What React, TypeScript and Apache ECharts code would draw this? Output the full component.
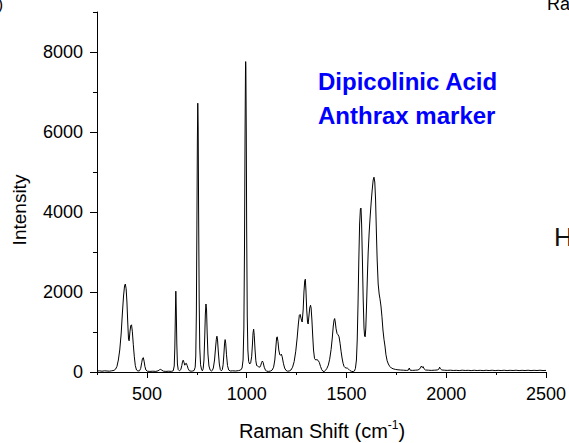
import React, { useEffect, useRef } from "react";
import * as echarts from "echarts";

const FONT = "'Liberation Sans', Arial, Helvetica, sans-serif";

// Axis setup
const xMin = 250;
const xMax = 2500;
const xMajorTicks = [500, 1000, 1500, 2000, 2500];
const yMin = 0;
const yMax = 9000;
const yMajorTicks = [0, 2000, 4000, 6000, 8000];

// Spectrum: [Raman shift (cm-1), intensity]
const bandLow: [number, number][] = [
  [250, 25], [262, 30], [275, 20], [288, 30], [300, 25], [312, 20], [324, 30], [335, 40],
  [343, 70], [350, 140], [357, 300], [364, 550], [371, 950], [377, 1450], [383, 1900],
  [388, 2150], [392, 2200], [396, 2080], [400, 1750], [404, 1250], [408, 820], [411, 780],
  [415, 1000], [419, 1160], [423, 1180], [427, 1020], [432, 680], [437, 380], [442, 160],
  [448, 50], [455, 25], [463, 30], [469, 90], [474, 230], [478, 340], [482, 360], [486, 270],
  [490, 140], [495, 50], [502, 20], [515, 15], [530, 20], [545, 15], [556, 30], [563, 55],
  [569, 65], [575, 45], [583, 20], [595, 15], [610, 20], [622, 15], [632, 30], [637, 150],
  [640, 600], [643, 1500], [645, 2020], [647, 1600], [650, 700], [653, 200], [657, 60],
  [663, 30], [670, 60], [675, 160], [679, 270], [682, 295], [686, 240], [690, 170],
  [694, 210], [698, 215], [702, 160], [707, 80], [713, 30], [722, 20],
];

const bandMid: [number, number][] = [
  [730, 25], [737, 40], [742, 120], [745, 400], [748, 1500], [751, 4000], [753, 5800],
  [755, 6720], [757, 6100], [759, 4200], [762, 1800], [765, 600], [769, 180], [774, 60],
  [778, 30], [782, 80], [786, 300], [790, 900], [793, 1450], [796, 1700], [799, 1550],
  [802, 1000], [806, 450], [811, 150], [817, 50], [823, 25], [828, 40], [833, 100],
  [839, 300], [844, 600], [848, 820], [851, 895], [854, 800], [858, 500], [863, 200],
  [868, 60], [873, 30], [878, 60], [882, 180], [886, 450], [889, 700], [892, 810],
  [895, 720], [899, 430], [904, 160], [910, 50], [918, 25], [930, 30], [945, 25],
  [960, 35], [970, 50], [977, 100], [982, 300], [986, 1100], [989, 3000], [992, 6000],
  [994, 7500], [995, 7760], [996, 7600], [998, 6000], [1000, 3600], [1003, 1400],
  [1006, 550], [1010, 260],
];

const bandHigh: [number, number][] = [
  [1015, 200], [1020, 230], [1025, 380], [1029, 700], [1032, 980], [1035, 1070],
  [1038, 920], [1042, 550], [1046, 280], [1050, 160], [1055, 150], [1060, 130],
  [1066, 120], [1071, 170], [1075, 240], [1079, 275], [1083, 230], [1088, 120],
  [1094, 50], [1100, 20], [1110, 15], [1120, 25], [1128, 50], [1135, 120], [1141, 300],
  [1146, 600], [1150, 850], [1153, 880], [1157, 760], [1161, 550], [1166, 430],
  [1170, 420], [1174, 445], [1178, 380], [1184, 220], [1190, 100], [1197, 40],
  [1205, 20], [1213, 25], [1222, 50], [1230, 120], [1238, 260], [1246, 520],
  [1253, 850], [1259, 1200], [1264, 1420], [1268, 1440], [1273, 1330], [1278, 1250],
  [1283, 1550], [1287, 2000], [1291, 2280], [1294, 2320], [1297, 2050], [1301, 1550],
  [1305, 1250], [1308, 1200], [1312, 1400], [1316, 1600], [1320, 1670], [1323, 1600],
  [1327, 1300], [1331, 900], [1335, 550], [1340, 340], [1346, 300], [1352, 310],
  [1358, 290], [1364, 240], [1370, 140], [1376, 60], [1382, 20], [1388, 10],
];

const bandCarbonyl: [number, number][] = [
  [1395, 40], [1402, 90], [1409, 170], [1416, 320], [1423, 560], [1429, 850],
  [1434, 1150], [1438, 1300], [1441, 1336], [1444, 1250], [1448, 1080], [1453, 960],
  [1458, 930], [1463, 880], [1468, 720], [1473, 520], [1478, 350], [1483, 220],
  [1488, 140], [1493, 110], [1499, 100], [1505, 95], [1511, 70], [1518, 35], [1526, 15],
  [1534, 10], [1540, 25], [1545, 90], [1550, 300], [1554, 800], [1558, 1700],
  [1562, 2800], [1566, 3700], [1570, 4080], [1573, 4100], [1576, 3700], [1580, 2800],
  [1584, 1800], [1588, 1100], [1591, 900], [1594, 880], [1597, 1100], [1601, 1700],
  [1605, 2400], [1609, 3000], [1614, 3500], [1619, 3900], [1624, 4250], [1629, 4550],
  [1634, 4800], [1638, 4870], [1642, 4750], [1646, 4300], [1650, 3500], [1654, 2800],
  [1659, 2200], [1664, 1950], [1668, 1830], [1673, 1650], [1678, 1380], [1683, 1050],
  [1688, 820], [1693, 650], [1698, 430], [1704, 280], [1710, 200], [1717, 140],
  [1725, 100], [1734, 80], [1745, 65], [1758, 55],
];

const tail: [number, number][] = [
  [1770, 50], [1785, 45], [1800, 40], [1810, 45], [1815, 100], [1819, 45], [1830, 40],
  [1845, 45], [1858, 50], [1866, 70], [1872, 120], [1876, 150], [1880, 110], [1884, 135],
  [1889, 80], [1896, 50], [1910, 45], [1925, 40], [1940, 45], [1955, 50], [1963, 70],
  [1967, 120], [1971, 80], [1978, 50], [1990, 45], [2005, 40], [2020, 45], [2035, 38],
  [2050, 42], [2065, 35], [2080, 45], [2095, 38], [2110, 42], [2125, 35], [2140, 44],
  [2155, 36], [2170, 42], [2185, 35], [2200, 43], [2215, 36], [2230, 44], [2245, 35],
  [2260, 42], [2275, 36], [2290, 44], [2305, 35], [2320, 42], [2335, 37], [2350, 44],
  [2365, 35], [2380, 42], [2395, 36], [2410, 44], [2425, 35], [2440, 42], [2455, 37],
  [2470, 44], [2485, 36], [2500, 40],
];

const spectrum = [...bandLow, ...bandMid, ...bandHigh, ...bandCarbonyl, ...tail];

const titleLines = ["Dipicolinic Acid", "Anthrax marker"];

export default function App() {
  const ref = useRef<HTMLDivElement>(null);

  useEffect(() => {
    if (!ref.current) return;
    const chart = echarts.init(ref.current, undefined, { renderer: "svg" });
    const black = "#000";
    const plain = (v: number) => String(v);
    const option: any = {
      animation: false,
      backgroundColor: "#fff",
      grid: [
        { left: 97, right: 23, top: 12, bottom: 71 },
        { left: 147, right: 23, top: 52, bottom: 71 },
      ],
      xAxis: [
        {
          gridIndex: 0,
          type: "value",
          min: xMin,
          max: xMax,
          interval: 250,
          axisLine: { show: true, onZero: false, lineStyle: { color: black, width: 1 } },
          axisTick: { show: true, length: 3, lineStyle: { color: black, width: 1 } },
          axisLabel: { show: false },
          splitLine: { show: false },
        },
        {
          gridIndex: 1,
          type: "value",
          min: xMajorTicks[0],
          max: xMajorTicks[xMajorTicks.length - 1],
          interval: xMajorTicks[1] - xMajorTicks[0],
          axisLine: { show: false, onZero: false },
          axisTick: { show: true, length: 6, lineStyle: { color: black, width: 1 } },
          axisLabel: {
            show: true,
            fontSize: 18,
            color: black,
            margin: 13,
            fontFamily: FONT,
            formatter: plain,
          },
          splitLine: { show: false },
        },
      ],
      yAxis: [
        {
          gridIndex: 0,
          type: "value",
          min: yMin,
          max: yMax,
          interval: 1000,
          axisLine: { show: true, onZero: false, lineStyle: { color: black, width: 1 } },
          axisTick: { show: true, length: 4, lineStyle: { color: black, width: 1 } },
          axisLabel: { show: false },
          splitLine: { show: false },
        },
        {
          gridIndex: 1,
          type: "value",
          min: yMajorTicks[0],
          max: yMajorTicks[yMajorTicks.length - 1],
          interval: yMajorTicks[1] - yMajorTicks[0],
          offset: 50,
          axisLine: { show: false, onZero: false },
          axisTick: { show: true, length: 7, lineStyle: { color: black, width: 1 } },
          axisLabel: {
            show: true,
            fontSize: 18,
            color: black,
            margin: 14,
            fontFamily: FONT,
            formatter: plain,
          },
          splitLine: { show: false },
        },
      ],
      series: [
        {
          type: "line",
          xAxisIndex: 0,
          yAxisIndex: 0,
          data: spectrum,
          symbol: "none",
          showSymbol: false,
          silent: true,
          lineStyle: { color: black, width: 1 },
        },
      ],
      graphic: [
        {
          type: "text",
          x: 318,
          y: 81,
          style: {
            text: titleLines[0],
            fill: "#0000ff",
            font: `bold 24px ${FONT}`,
            textAlign: "left",
            textVerticalAlign: "middle",
            align: "left",
            verticalAlign: "middle",
          },
        },
        {
          type: "text",
          x: 318,
          y: 115,
          style: {
            text: titleLines[1],
            fill: "#0000ff",
            font: `bold 24px ${FONT}`,
            textAlign: "left",
            textVerticalAlign: "middle",
            align: "left",
            verticalAlign: "middle",
          },
        },
        {
          type: "text",
          x: 19,
          y: 210,
          rotation: Math.PI / 2,
          style: {
            text: "Intensity",
            fill: black,
            font: `19px ${FONT}`,
            textAlign: "center",
            textVerticalAlign: "middle",
            align: "center",
            verticalAlign: "middle",
          },
        },
        {
          type: "text",
          x: 322,
          y: 431,
          style: {
            text: "{a|Raman Shift (cm}{s|-1}{a|)}",
            fill: black,
            font: `20px ${FONT}`,
            textAlign: "center",
            textVerticalAlign: "middle",
            align: "center",
            verticalAlign: "middle",
            rich: {
              a: { fontSize: 20, fontFamily: FONT, fill: black, lineHeight: 24, verticalAlign: "middle" },
              s: { fontSize: 12, fontFamily: FONT, fill: black, lineHeight: 13, verticalAlign: "top" },
            },
          },
        },
        {
          type: "text",
          x: 3,
          y: 4,
          style: {
            text: "(a)",
            fill: black,
            font: `16px ${FONT}`,
            textAlign: "right",
            textVerticalAlign: "middle",
            align: "right",
            verticalAlign: "middle",
          },
        },
        {
          type: "text",
          x: 547,
          y: 4,
          style: {
            text: "Ra",
            fill: black,
            font: `18px ${FONT}`,
            textAlign: "left",
            textVerticalAlign: "middle",
            align: "left",
            verticalAlign: "middle",
          },
        },
        {
          type: "text",
          x: 554,
          y: 237,
          style: {
            text: "H",
            fill: "#111",
            font: `26px ${FONT}`,
            textAlign: "left",
            textVerticalAlign: "middle",
            align: "left",
            verticalAlign: "middle",
          },
        },
      ],
    };
    chart.setOption(option);
    return () => chart.dispose();
  }, []);

  return (
    <div
      ref={ref}
      style={{ position: "fixed", left: 0, top: 0, width: 569, height: 443, background: "#fff" }}
    />
  );
}
